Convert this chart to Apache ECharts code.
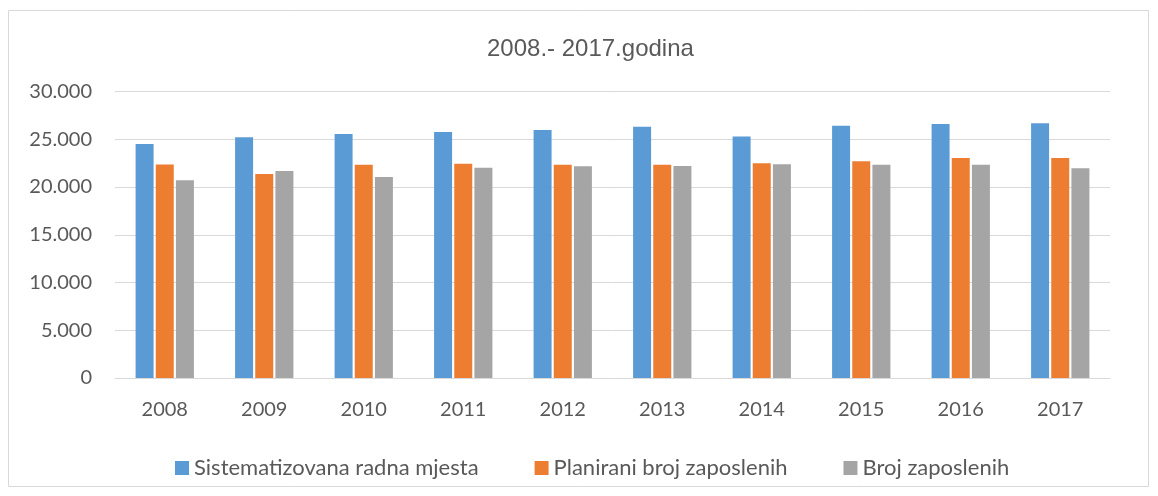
<!DOCTYPE html>
<html><head><meta charset="utf-8">
<script src="https://cdn.jsdelivr.net/npm/echarts@6/dist/echarts.min.js"></script>
<style>html,body{margin:0;padding:0;background:#fff;}#c{width:1158px;height:496px;}</style>
</head><body><div id="c"></div>
<script>
const categories = ['2008','2009','2010','2011','2012','2013','2014','2015','2016','2017'];
const sistematizovana = [24500, 25200, 25550, 25760, 25970, 26310, 25300, 26420, 26600, 26670];
const planirani = [22350, 21360, 22330, 22440, 22340, 22340, 22480, 22690, 23040, 23040];
const broj = [20700, 21680, 21050, 22020, 22170, 22200, 22380, 22340, 22340, 21960];
const seriesNames = ['Sistematizovana radna mjesta', 'Planirani broj zaposlenih', 'Broj zaposlenih'];
const titleText = '2008.- 2017.godina';

const font = 'Lato, "Open Sans", sans-serif';
const chart = echarts.init(document.getElementById('c'), null, {renderer: 'canvas'});
function fmt(v){ return v === 0 ? '0' : (v/1000).toFixed(3); }
chart.setOption({
  animation: false,
  title: { text: titleText, left: 482, top: 32, textStyle: { fontFamily: '"Liberation Sans", Arial, sans-serif', fontSize: 24, fontWeight: 'normal', color: '#595959' } },
  graphic: [{ type: 'rect', shape: { x: 8.5, y: 10.5, width: 1140, height: 476 }, style: { fill: 'none', stroke: '#d9d9d9', lineWidth: 1 }, z: -1 }],
  grid: { left: 115, right: 48, top: 91.5, bottom: 118, containLabel: false },
  legend: {
    top: 452, left: 170, itemWidth: 14, itemHeight: 14, itemGap: 56, icon: 'rect',
    textStyle: { fontFamily: font, fontSize: 22, color: '#595959' }
  },
  xAxis: {
    type: 'category', data: categories,
    axisLine: { lineStyle: { color: '#d9d9d9', width: 1 } },
    axisTick: { show: false },
    axisLabel: { fontFamily: font, fontSize: 20, color: '#595959', margin: 22 }
  },
  yAxis: {
    type: 'value', min: 0, max: 30000, interval: 5000,
    axisLine: { show: false }, axisTick: { show: false },
    splitLine: { lineStyle: { color: '#d9d9d9', width: 1 } },
    axisLabel: { fontFamily: font, fontSize: 20, color: '#595959', margin: 23, formatter: fmt }
  },
  series: [
    { name: seriesNames[0], type: 'bar', data: sistematizovana, barWidth: 18, barGap: '12%', itemStyle: { color: '#5b9bd5' } },
    { name: seriesNames[1], type: 'bar', data: planirani, barWidth: 18, barGap: '12%', itemStyle: { color: '#ed7d31' } },
    { name: seriesNames[2], type: 'bar', data: broj, barWidth: 18, barGap: '12%', itemStyle: { color: '#a5a5a5' } }
  ]
});
</script></body></html>
